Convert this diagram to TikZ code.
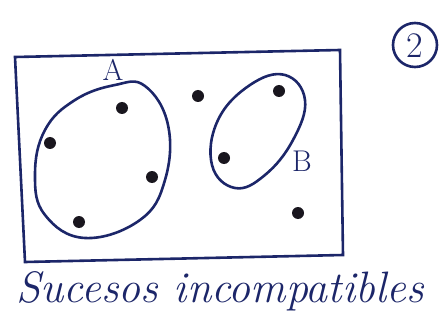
\documentclass[tikz,border=0pt]{standalone}
\usepackage{tikz}
\usepackage{xcolor}
\usetikzlibrary{positioning}
\definecolor{ink}{RGB}{28,38,105}
\definecolor{dotink}{RGB}{25,22,30}

\begin{document}
\begin{tikzpicture}[x=1pt,y=-1pt, line width=2.6pt]
  \useasboundingbox (0,0) rectangle (447,326);
  % sample space
  \draw[ink] (15,57) -- (340,50) -- (343,255) -- (25,262) -- cycle;

  % number in a circle
  \draw[ink] (415,45) circle (22);
  \node[ink, font=\fontsize{36}{36}\selectfont] (num) at (415,46) {2};

  % set A
  \draw[ink] plot[smooth cycle, tension=0.7] coordinates
    {(145,86) (168,125) (165,180) (140,220) (85,238) (45,215)
     (35,175) (45,130) (75,100) (115,85)};
  \node[ink, font=\fontsize{30}{30}\selectfont] (labA) at (113,70) {A};

  % set B
  \draw[ink] plot[smooth cycle, tension=0.7] coordinates
    {(285,75) (305,100) (293,140) (265,175) (235,188) (212,165)
     (218,120) (250,85)};
  \node[ink, font=\fontsize{30}{30}\selectfont] (labB) at (302,161) {B};

  % outcomes
  \fill[dotink] (122,108) circle (6);
  \fill[dotink] ( 50,143) circle (6);
  \fill[dotink] (152,177) circle (6);
  \fill[dotink] ( 79,222) circle (6);
  \fill[dotink] (198, 96) circle (6);
  \fill[dotink] (279, 91) circle (6);
  \fill[dotink] (224,158) circle (6);
  \fill[dotink] (298,213) circle (6);

  \node[ink, font=\itshape\fontsize{44}{44}\selectfont, anchor=base west]
    (caption) at (12,302) {Sucesos incompatibles};
\end{tikzpicture}
\end{document}
